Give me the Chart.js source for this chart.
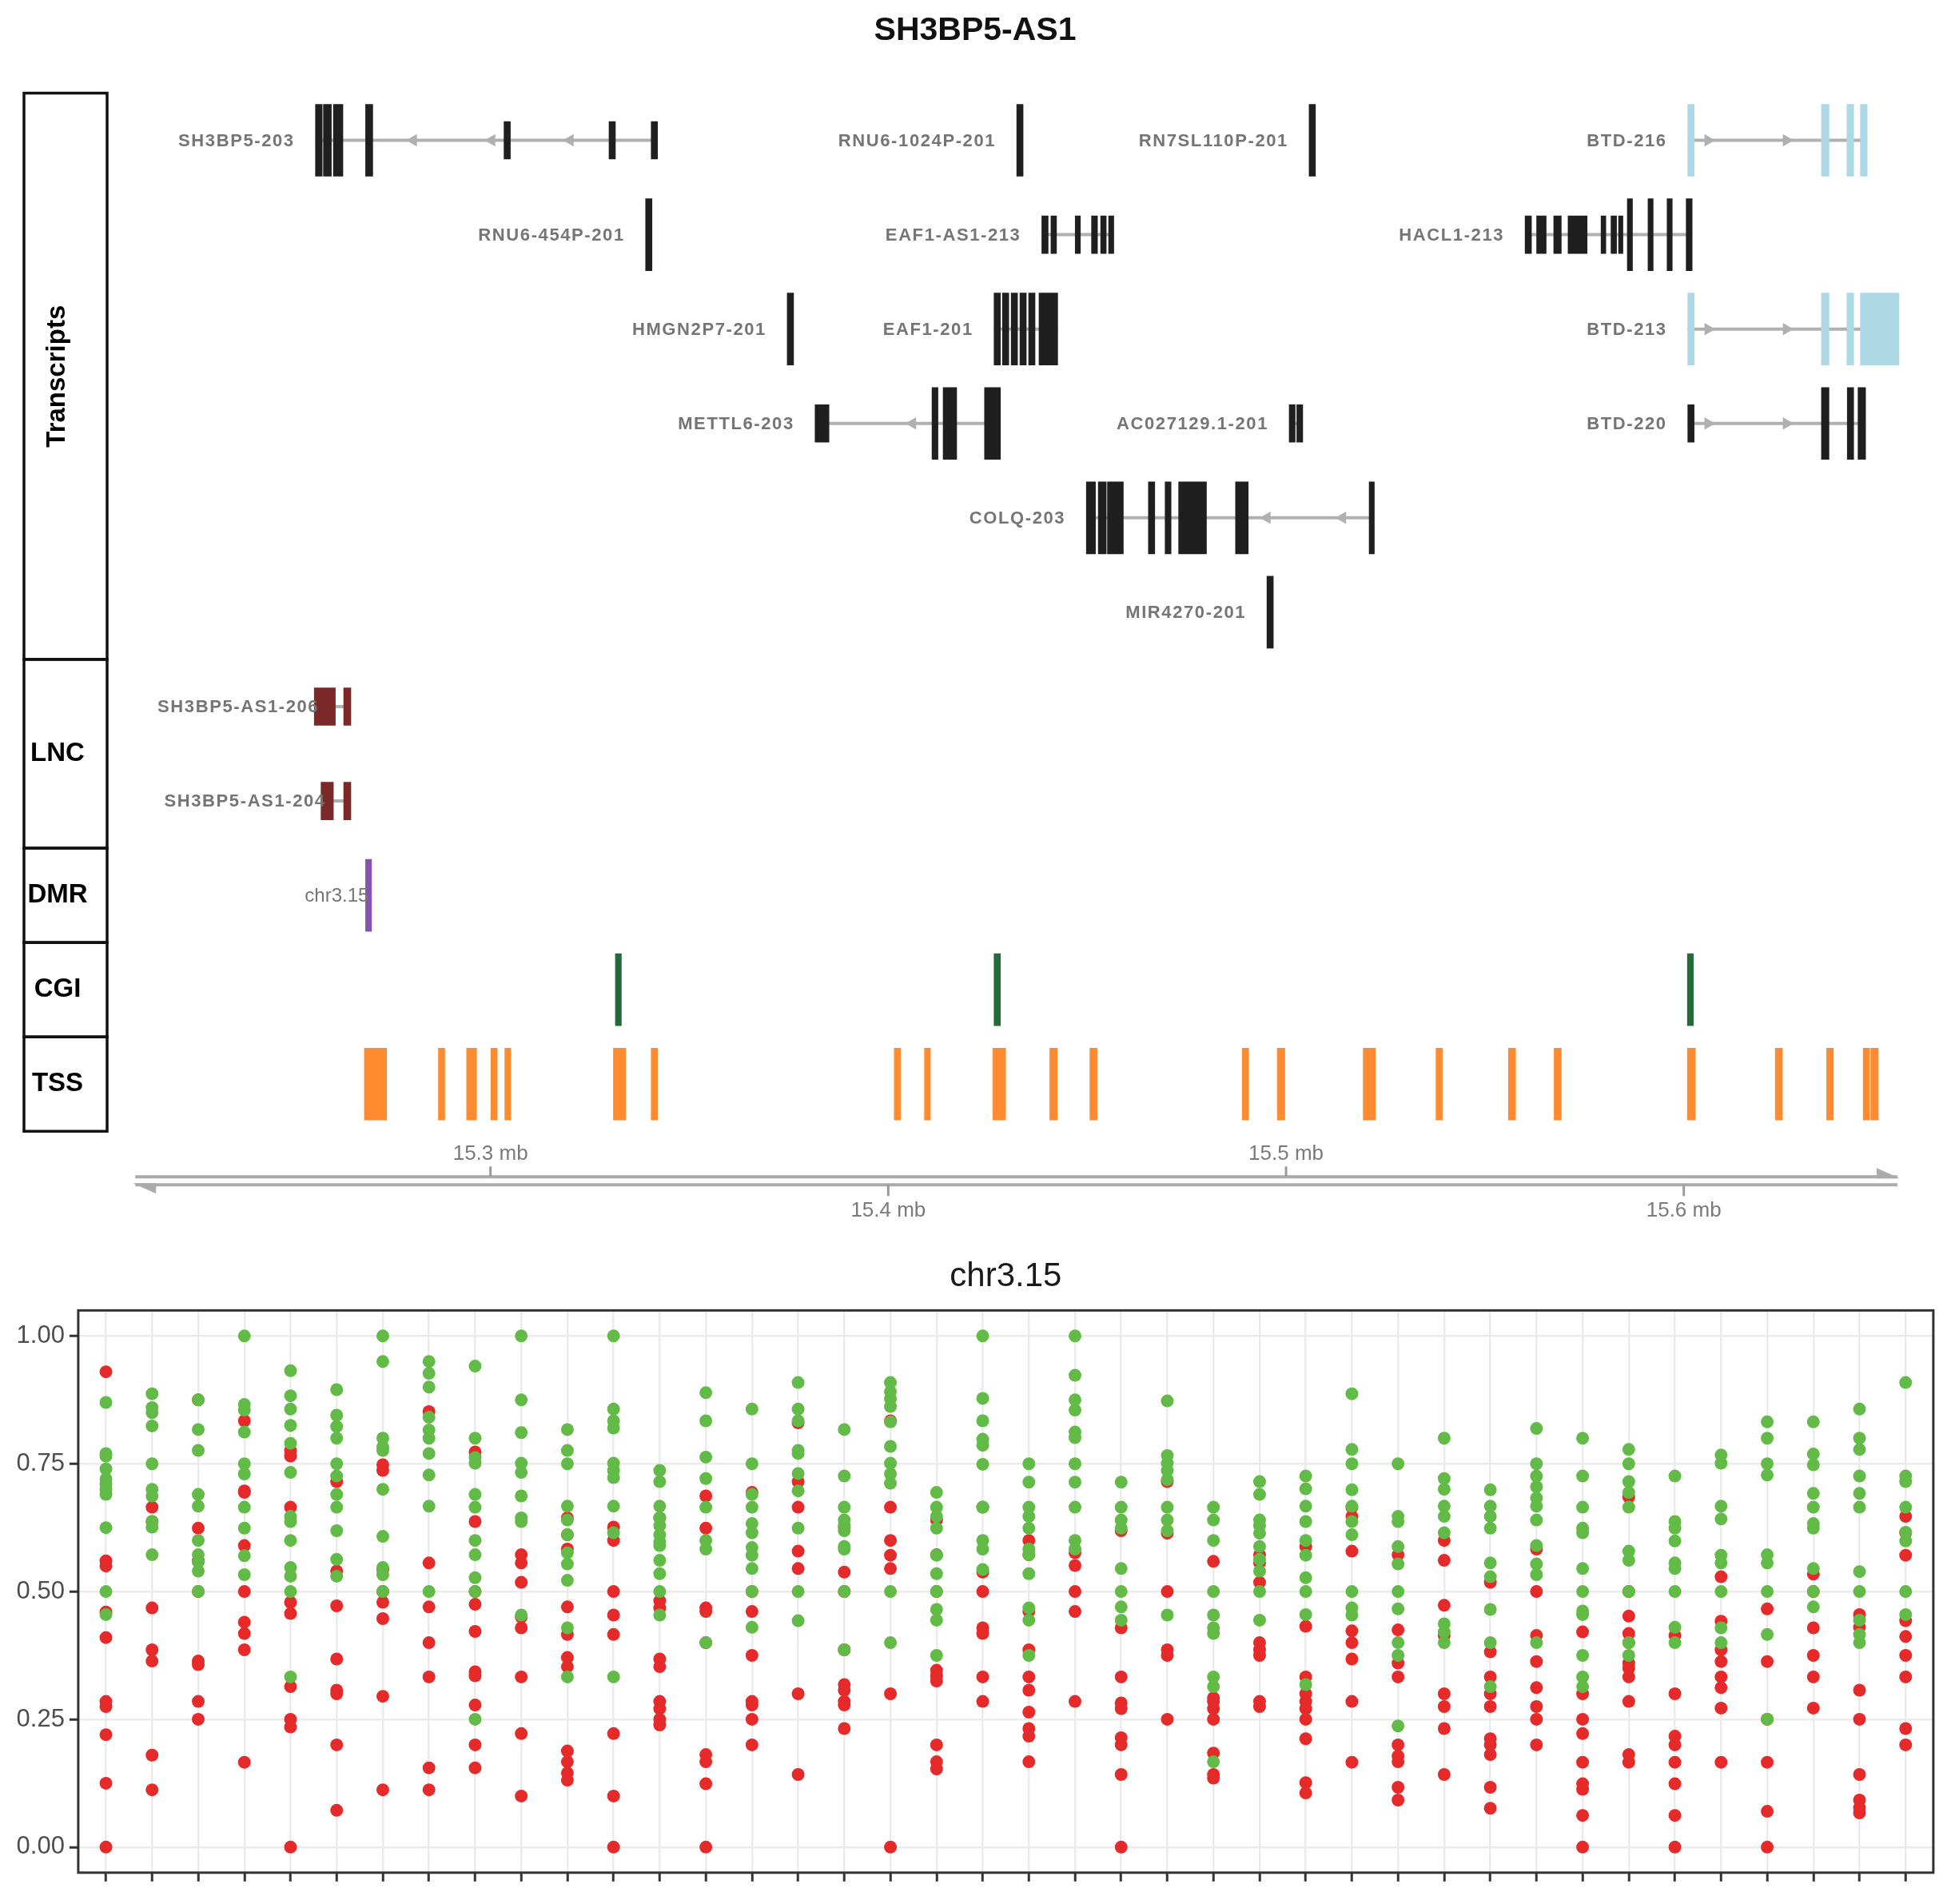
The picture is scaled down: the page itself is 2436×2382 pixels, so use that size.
<!DOCTYPE html>
<html>
<head>
<meta charset="utf-8">
<script src="https://cdn.jsdelivr.net/npm/chart.js@4.4.1/dist/chart.umd.min.js"></script>
<style>
  html, body { margin: 0; padding: 0; background: #fff; }
  #wrap { position: relative; width: 2436px; height: 2382px; }
  #trackChart { position: absolute; left: 0; top: 0; width: 2436px; height: 1560px; }
  #methChart { position: absolute; left: 0; top: 1560px; width: 2436px; height: 822px; }
</style>
</head>
<body>
<div id="wrap">
  <canvas id="trackChart" width="2436" height="1560"></canvas>
  <canvas id="methChart" width="2436" height="822"></canvas>
</div>
<script>
// ---- genome track (positions in mb) ----
const plotTitle = 'SH3BP5-AS1';
const geneNames = ['SH3BP5-203', 'RNU6-1024P-201', 'RN7SL110P-201', 'BTD-216',
  'RNU6-454P-201', 'EAF1-AS1-213', 'HACL1-213',
  'HMGN2P7-201', 'EAF1-201', 'BTD-213',
  'METTL6-203', 'AC027129.1-201', 'BTD-220',
  'COLQ-203', 'MIR4270-201',
  'SH3BP5-AS1-206', 'SH3BP5-AS1-204', 'chr3.15'];
const geneRow = [0, 0, 0, 0, 1, 1, 1, 2, 2, 2, 3, 3, 3, 4, 5, 6, 7, 8];
const geneKind = ['tx', 'tx', 'tx', 'btd', 'tx', 'tx', 'tx', 'tx', 'tx', 'btd',
  'tx', 'tx', 'tx', 'tx', 'tx', 'lnc', 'lnc', 'dmr'];

const tallExons = [
  [[15.2560, 15.2577], [15.2580, 15.2600], [15.2605, 15.2629], [15.2686, 15.2704]],
  [[15.4323, 15.4339]],
  [[15.5058, 15.5074]],
  [[15.6010, 15.6026], [15.6346, 15.6365], [15.6410, 15.6427], [15.6444, 15.6461]],
  [[15.3390, 15.3406]],
  [],
  [[15.5858, 15.5871], [15.5910, 15.5923], [15.5958, 15.5971], [15.6006, 15.6021]],
  [[15.3746, 15.3762]],
  [[15.4266, 15.4282], [15.4287, 15.4303], [15.4309, 15.4325], [15.4331, 15.4347], [15.4353, 15.4369], [15.4379, 15.4426]],
  [[15.6010, 15.6026], [15.6346, 15.6365], [15.6410, 15.6427], [15.6444, 15.6541]],
  [[15.4110, 15.4125], [15.4138, 15.4172], [15.4242, 15.4282]],
  [],
  [[15.6346, 15.6365], [15.6411, 15.6427], [15.6438, 15.6457]],
  [[15.4498, 15.4521], [15.4528, 15.4548], [15.4551, 15.4591], [15.4654, 15.4670], [15.4696, 15.4711], [15.4730, 15.4800], [15.4873, 15.4905], [15.5209, 15.5222]],
  [[15.4952, 15.4968]],
  [],
  [],
  [[15.2686, 15.2701]]
];
const shortExons = [
  [[15.3034, 15.3050], [15.3298, 15.3314], [15.3404, 15.3420]],
  [], [], [], [],
  [[15.4386, 15.4402], [15.4409, 15.4423], [15.4470, 15.4483], [15.4511, 15.4526], [15.4534, 15.4548], [15.4554, 15.4567]],
  [[15.5601, 15.5617], [15.5630, 15.5654], [15.5673, 15.5692], [15.5709, 15.5757], [15.5792, 15.5804], [15.5817, 15.5831], [15.5836, 15.5847]],
  [], [], [],
  [[15.3816, 15.3851]],
  [[15.5008, 15.5023], [15.5027, 15.5042]],
  [[15.6010, 15.6026]],
  [], [],
  [[15.2557, 15.2610], [15.2631, 15.2649]],
  [[15.2574, 15.2605], [15.2631, 15.2649]],
  []
];
const arrowsLeft = [15.2806, 15.3003, 15.3200, 15.4061, 15.4952, 15.5142];
const arrowsLeftRow = [0, 0, 0, 3, 4, 4];
const arrowsRight = [15.6061, 15.6258, 15.6061, 15.6258, 15.6061, 15.6258];
const arrowsRightRow = [0, 0, 2, 2, 3, 3];

const cgiRegions = [[15.3314, 15.3329], [15.4266, 15.4282], [15.6009, 15.6024]];
const tssRegions = [[15.2683, 15.2739], [15.2869, 15.2885], [15.2940, 15.2965], [15.3001, 15.3017],
  [15.3036, 15.3051], [15.3309, 15.3340], [15.3404, 15.3420], [15.4015, 15.4031], [15.4091, 15.4106],
  [15.4263, 15.4295], [15.4406, 15.4425], [15.4507, 15.4525], [15.4890, 15.4906], [15.4978, 15.4997],
  [15.5194, 15.5225], [15.5377, 15.5393], [15.5559, 15.5577], [15.5674, 15.5692], [15.6009, 15.6029],
  [15.6230, 15.6248], [15.6359, 15.6376], [15.6451, 15.6467], [15.6470, 15.6489]];

const trackNames = ['Transcripts', 'LNC', 'DMR', 'CGI', 'TSS'];
const trackRows = [[0, 5], [6, 7], [8, 8], [9, 9], [10, 10]];
const axisTicks = [15.3, 15.4, 15.5, 15.6];
const axisSpan = [15.2107, 15.6537];

// ---- methylation of the DMR (one column per CpG) ----
const methTitle = 'chr3.15';
const greenVals = [
  [0.87, 0.77, 0.765, 0.74, 0.72, 0.71, 0.70, 0.69, 0.625, 0.50, 0.455],
  [0.887, 0.86, 0.85, 0.824, 0.75, 0.70, 0.687, 0.637, 0.626, 0.572],
  [0.875, 0.817, 0.776, 0.69, 0.667, 0.60, 0.572, 0.558, 0.54, 0.50],
  [1.0, 0.866, 0.855, 0.812, 0.75, 0.73, 0.665, 0.624, 0.57, 0.533],
  [0.932, 0.883, 0.857, 0.825, 0.79, 0.733, 0.647, 0.637, 0.60, 0.547, 0.53, 0.50, 0.333],
  [0.895, 0.845, 0.823, 0.80, 0.75, 0.726, 0.69, 0.665, 0.619, 0.563, 0.53],
  [1.0, 0.95, 0.80, 0.783, 0.776, 0.70, 0.608, 0.547, 0.533, 0.50],
  [0.95, 0.927, 0.90, 0.841, 0.816, 0.80, 0.77, 0.728, 0.667, 0.50],
  [0.941, 0.80, 0.762, 0.751, 0.69, 0.665, 0.60, 0.572, 0.527, 0.50, 0.25],
  [1.0, 0.875, 0.811, 0.751, 0.733, 0.687, 0.644, 0.637, 0.454],
  [0.817, 0.776, 0.75, 0.667, 0.64, 0.611, 0.576, 0.554, 0.522, 0.429, 0.333],
  [1.0, 0.857, 0.834, 0.82, 0.751, 0.737, 0.723, 0.667, 0.615, 0.333],
  [0.737, 0.715, 0.667, 0.644, 0.629, 0.611, 0.597, 0.59, 0.561, 0.535, 0.50, 0.454],
  [0.889, 0.834, 0.763, 0.721, 0.665, 0.60, 0.583, 0.40],
  [0.857, 0.75, 0.69, 0.665, 0.633, 0.615, 0.586, 0.571, 0.545, 0.50, 0.43],
  [0.909, 0.857, 0.834, 0.776, 0.77, 0.731, 0.697, 0.624, 0.50, 0.443],
  [0.817, 0.726, 0.665, 0.64, 0.629, 0.619, 0.588, 0.583, 0.50, 0.386],
  [0.909, 0.891, 0.877, 0.862, 0.832, 0.784, 0.751, 0.73, 0.712, 0.50, 0.40],
  [0.694, 0.665, 0.647, 0.624, 0.571, 0.535, 0.50, 0.465, 0.444, 0.375],
  [1.0, 0.878, 0.834, 0.798, 0.786, 0.749, 0.665, 0.60, 0.583, 0.543],
  [0.75, 0.714, 0.665, 0.647, 0.624, 0.583, 0.572, 0.535, 0.468, 0.444, 0.375],
  [1.0, 0.923, 0.875, 0.855, 0.812, 0.801, 0.75, 0.714, 0.665, 0.60, 0.583],
  [0.714, 0.665, 0.64, 0.624, 0.545, 0.50, 0.47, 0.444],
  [0.873, 0.766, 0.751, 0.737, 0.719, 0.665, 0.64, 0.619, 0.454],
  [0.665, 0.64, 0.60, 0.50, 0.454, 0.429, 0.418, 0.333, 0.314, 0.167],
  [0.715, 0.69, 0.64, 0.629, 0.614, 0.588, 0.563, 0.54, 0.50, 0.444],
  [0.726, 0.701, 0.667, 0.637, 0.60, 0.571, 0.527, 0.50, 0.455, 0.318],
  [0.887, 0.778, 0.75, 0.699, 0.667, 0.637, 0.611, 0.50, 0.468, 0.454],
  [0.75, 0.647, 0.637, 0.588, 0.554, 0.50, 0.466, 0.40, 0.375, 0.237],
  [0.80, 0.721, 0.70, 0.667, 0.647, 0.615, 0.437, 0.421, 0.40],
  [0.699, 0.667, 0.647, 0.624, 0.556, 0.529, 0.465, 0.40, 0.314],
  [0.819, 0.75, 0.726, 0.705, 0.683, 0.667, 0.64, 0.59, 0.554, 0.533, 0.40],
  [0.80, 0.726, 0.665, 0.624, 0.615, 0.545, 0.50, 0.462, 0.455, 0.375, 0.333, 0.314],
  [0.778, 0.75, 0.715, 0.694, 0.665, 0.579, 0.561, 0.50, 0.40, 0.375],
  [0.726, 0.637, 0.624, 0.599, 0.556, 0.545, 0.50, 0.43, 0.40],
  [0.767, 0.751, 0.667, 0.642, 0.571, 0.556, 0.50, 0.429, 0.40],
  [0.832, 0.80, 0.75, 0.728, 0.572, 0.556, 0.50, 0.416, 0.25],
  [0.832, 0.769, 0.748, 0.692, 0.665, 0.633, 0.624, 0.545, 0.50, 0.47],
  [0.857, 0.80, 0.778, 0.726, 0.692, 0.665, 0.539, 0.50, 0.444, 0.416, 0.40],
  [0.909, 0.726, 0.715, 0.665, 0.616, 0.599, 0.50, 0.455]
];
const redVals = [
  [0.93, 0.56, 0.55, 0.46, 0.41, 0.285, 0.275, 0.22, 0.125, 0.0],
  [0.665, 0.637, 0.468, 0.386, 0.364, 0.18, 0.112],
  [0.875, 0.624, 0.56, 0.50, 0.364, 0.357, 0.285, 0.25],
  [0.834, 0.697, 0.694, 0.59, 0.50, 0.44, 0.418, 0.386, 0.166],
  [0.776, 0.765, 0.665, 0.479, 0.457, 0.314, 0.25, 0.235, 0.0],
  [0.715, 0.54, 0.472, 0.368, 0.307, 0.30, 0.20, 0.072],
  [0.748, 0.737, 0.543, 0.50, 0.479, 0.447, 0.295, 0.112],
  [0.852, 0.556, 0.47, 0.40, 0.333, 0.155, 0.112],
  [0.773, 0.637, 0.50, 0.475, 0.422, 0.343, 0.335, 0.278, 0.20, 0.155],
  [0.572, 0.556, 0.518, 0.45, 0.429, 0.333, 0.222, 0.10],
  [0.644, 0.611, 0.583, 0.47, 0.416, 0.371, 0.353, 0.188, 0.167, 0.145, 0.131],
  [0.626, 0.60, 0.50, 0.454, 0.416, 0.222, 0.10, 0.0],
  [0.644, 0.482, 0.468, 0.368, 0.353, 0.285, 0.271, 0.25, 0.239],
  [0.687, 0.624, 0.468, 0.461, 0.40, 0.181, 0.167, 0.124, 0.0],
  [0.694, 0.50, 0.461, 0.375, 0.285, 0.278, 0.25, 0.20],
  [0.83, 0.715, 0.665, 0.579, 0.545, 0.30, 0.142],
  [0.626, 0.538, 0.50, 0.386, 0.318, 0.307, 0.285, 0.278, 0.232],
  [0.834, 0.665, 0.60, 0.571, 0.545, 0.30, 0.0],
  [0.64, 0.572, 0.50, 0.346, 0.335, 0.325, 0.20, 0.167, 0.153],
  [0.665, 0.538, 0.50, 0.429, 0.418, 0.333, 0.285],
  [0.60, 0.572, 0.461, 0.386, 0.333, 0.307, 0.264, 0.232, 0.217, 0.167],
  [0.576, 0.551, 0.50, 0.461, 0.285],
  [0.619, 0.429, 0.333, 0.282, 0.271, 0.214, 0.20, 0.142, 0.0],
  [0.715, 0.614, 0.50, 0.386, 0.375, 0.25],
  [0.559, 0.292, 0.285, 0.271, 0.25, 0.184, 0.142, 0.135],
  [0.572, 0.556, 0.518, 0.40, 0.386, 0.375, 0.285, 0.275],
  [0.588, 0.432, 0.333, 0.30, 0.285, 0.271, 0.25, 0.212, 0.126, 0.106],
  [0.665, 0.647, 0.579, 0.423, 0.40, 0.368, 0.285, 0.166],
  [0.572, 0.425, 0.36, 0.333, 0.20, 0.178, 0.167, 0.117, 0.092],
  [0.60, 0.561, 0.473, 0.414, 0.30, 0.275, 0.232, 0.142],
  [0.518, 0.382, 0.333, 0.30, 0.275, 0.212, 0.20, 0.181, 0.117, 0.076],
  [0.583, 0.50, 0.414, 0.363, 0.312, 0.275, 0.25, 0.20],
  [0.421, 0.30, 0.25, 0.222, 0.166, 0.124, 0.113, 0.062, 0.0],
  [0.685, 0.50, 0.452, 0.418, 0.40, 0.36, 0.35, 0.333, 0.285, 0.181, 0.166],
  [0.414, 0.30, 0.217, 0.20, 0.166, 0.124, 0.062, 0.0],
  [0.529, 0.442, 0.386, 0.363, 0.333, 0.312, 0.272, 0.166],
  [0.466, 0.363, 0.25, 0.166, 0.07, 0.0],
  [0.534, 0.50, 0.429, 0.375, 0.333, 0.272],
  [0.455, 0.43, 0.307, 0.25, 0.142, 0.092, 0.077, 0.067],
  [0.647, 0.615, 0.571, 0.443, 0.412, 0.375, 0.333, 0.232, 0.20]
];
const yTicks = [0, 0.25, 0.5, 0.75, 1];

const kindColor = { tx: '#1f1f1f', btd: '#add8e6', lnc: '#7b2828', dmr: '#8753b0', cgi: '#236b39', tss: '#ff8b30' };

// build bar data for exons/regions
const tallData = [], tallColors = [], shortData = [], shortColors = [];
geneNames.forEach((g, i) => {
  tallExons[i].forEach(e => { tallData.push({ x: e.slice(), y: geneRow[i] }); tallColors.push(kindColor[geneKind[i]]); });
  shortExons[i].forEach(e => { shortData.push({ x: e.slice(), y: geneRow[i] }); shortColors.push(kindColor[geneKind[i]]); });
});
cgiRegions.forEach(e => { tallData.push({ x: e.slice(), y: 9 }); tallColors.push(kindColor.cgi); });
tssRegions.forEach(e => { tallData.push({ x: e.slice(), y: 10 }); tallColors.push(kindColor.tss); });

function geneSpan(i) {
  const all = tallExons[i].concat(shortExons[i]);
  return [Math.min(...all.map(e => e[0])), Math.max(...all.map(e => e[1]))];
}

const intronSets = [];
geneNames.forEach((g, i) => {
  if (tallExons[i].length + shortExons[i].length < 2) return;
  const sp = geneSpan(i);
  intronSets.push({
    type: 'line',
    data: [{ x: sp[0], y: geneRow[i] }, { x: sp[1], y: geneRow[i] }],
    borderColor: '#b0b0b0', borderWidth: 4, pointRadius: 0, order: 3
  });
});

const trackDecor = {
  id: 'trackDecor',
  afterDatasetsDraw(chart) {
    const { ctx, chartArea: ca, scales: { x, y } } = chart;
    ctx.save();
    ctx.fillStyle = '#111';
    ctx.font = 'bold 41px "Liberation Sans"';
    ctx.textAlign = 'center';
    ctx.textBaseline = 'middle';
    ctx.fillText(plotTitle, 1220, 39);

    // track boxes on the left
    ctx.lineWidth = 3.5;
    ctx.strokeStyle = '#111';
    trackNames.forEach((name, i) => {
      const top = y.getPixelForValue(trackRows[i][0] - 0.5);
      const bot = y.getPixelForValue(trackRows[i][1] + 0.5);
      ctx.strokeRect(30, top, 104, bot - top);
      ctx.save();
      ctx.font = 'bold 33px "Liberation Sans"';
      ctx.fillStyle = '#000';
      ctx.translate(72, (top + bot) / 2);
      if (name === 'Transcripts') ctx.rotate(-Math.PI / 2);
      ctx.fillText(name, 0, 0);
      ctx.restore();
    });

    // gene labels
    ctx.textAlign = 'right';
    ctx.fillStyle = '#757575';
    geneNames.forEach((g, i) => {
      const px = x.getPixelForValue(geneSpan(i)[0]);
      const py = y.getPixelForValue(geneRow[i]);
      let off = -26;
      ctx.font = 'bold 22px "Liberation Sans"';
      ctx.letterSpacing = '1.6px';
      if (geneKind[i] === 'lnc') off = 6;
      if (geneKind[i] === 'dmr') { off = 4; ctx.font = '24px "Liberation Sans"'; ctx.letterSpacing = '0px'; }
      ctx.fillText(g, px + off, py + 1);
    });
    ctx.letterSpacing = '0px';

    // genomic axis
    const yTop = ca.bottom + 57, yBot = ca.bottom + 67;
    const xL = x.getPixelForValue(axisSpan[0]), xR = x.getPixelForValue(axisSpan[1]);
    ctx.strokeStyle = '#ababab';
    ctx.fillStyle = '#ababab';
    ctx.lineWidth = 4;
    ctx.beginPath();
    ctx.moveTo(xL, yTop); ctx.lineTo(xR, yTop);
    ctx.moveTo(xL, yBot); ctx.lineTo(xR, yBot);
    ctx.stroke();
    ctx.beginPath();
    ctx.moveTo(xR + 3, yTop + 2); ctx.lineTo(xR - 26, yTop - 11); ctx.lineTo(xR - 26, yTop + 2);
    ctx.closePath(); ctx.fill();
    ctx.beginPath();
    ctx.moveTo(xL - 3, yBot - 2); ctx.lineTo(xL + 26, yBot + 11); ctx.lineTo(xL + 26, yBot - 2);
    ctx.closePath(); ctx.fill();

    ctx.font = '26px "Liberation Sans"';
    ctx.textAlign = 'center';
    axisTicks.forEach((t, i) => {
      const px = x.getPixelForValue(t);
      const up = i % 2 === 0;
      ctx.strokeStyle = '#9a9a9a';
      ctx.lineWidth = 3;
      ctx.beginPath();
      if (up) { ctx.moveTo(px, yTop); ctx.lineTo(px, yTop - 13); }
      else { ctx.moveTo(px, yBot); ctx.lineTo(px, yBot + 14); }
      ctx.stroke();
      ctx.fillStyle = '#7a7a7a';
      ctx.fillText(t.toFixed(1) + ' mb', px, up ? yTop - 28 : yBot + 33);
    });
    ctx.restore();
  }
};

new Chart(document.getElementById('trackChart'), {
  type: 'bar',
  data: {
    datasets: [
      { type: 'bar', indexAxis: 'y', data: tallData, backgroundColor: tallColors, barThickness: 90, grouped: false, borderWidth: 0, order: 0 },
      { type: 'bar', indexAxis: 'y', data: shortData, backgroundColor: shortColors, barThickness: 47, grouped: false, borderWidth: 0, order: 1 },
      { type: 'scatter', data: arrowsLeft.map((v, i) => ({ x: v, y: arrowsLeftRow[i] })), pointStyle: 'triangle', rotation: 270, pointRadius: 9, backgroundColor: '#b0b0b0', borderWidth: 0, order: 2 },
      { type: 'scatter', data: arrowsRight.map((v, i) => ({ x: v, y: arrowsRightRow[i] })), pointStyle: 'triangle', rotation: 90, pointRadius: 9, backgroundColor: '#b0b0b0', borderWidth: 0, order: 2 },
      ...intronSets
    ]
  },
  options: {
    responsive: false,
    animation: false,
    devicePixelRatio: 1,
    layout: { padding: { left: 116, right: 30.7, top: 116.5, bottom: 144.7 } },
    scales: {
      x: { type: 'linear', min: 15.2, max: 15.66, offset: false, display: false },
      y: { type: 'linear', min: -0.5, max: 10.5, reverse: true, offset: false, display: false }
    },
    plugins: { legend: { display: false }, tooltip: { enabled: false } }
  },
  plugins: [trackDecor]
});

// ---- methylation scatter ----
const siteIdx = greenVals.map((v, i) => i);
const greenPts = [], redPts = [];
greenVals.forEach((col, i) => col.forEach(v => greenPts.push({ x: i, y: v })));
redVals.forEach((col, i) => col.forEach(v => redPts.push({ x: i, y: v })));

const panelBox = {
  id: 'panelBox',
  afterDraw(chart) {
    const { ctx, chartArea: ca } = chart;
    ctx.save();
    ctx.strokeStyle = '#333';
    ctx.lineWidth = 3;
    ctx.strokeRect(ca.left, ca.top, ca.right - ca.left, ca.bottom - ca.top);
    ctx.restore();
  }
};

new Chart(document.getElementById('methChart'), {
  type: 'scatter',
  data: {
    datasets: [
      { label: 'green', data: greenPts, backgroundColor: '#63bb47', pointRadius: 8, borderWidth: 0, order: 0 },
      { label: 'red', data: redPts, backgroundColor: '#e62a2a', pointRadius: 8, borderWidth: 0, order: 1 }
    ]
  },
  options: {
    responsive: false,
    animation: false,
    devicePixelRatio: 1,
    layout: { padding: { left: 0, right: 17.1, top: 0, bottom: 0 } },
    scales: {
      x: {
        type: 'linear', min: -0.6, max: 39.6,
        afterBuildTicks: s => { s.ticks = siteIdx.map(v => ({ value: v })); },
        afterFit: s => { s.height = 39.2; },
        ticks: { display: false },
        grid: { color: '#ebebeb', lineWidth: 2.5, tickColor: '#333', tickWidth: 3, tickLength: 11 },
        border: { display: false }
      },
      y: {
        type: 'linear', min: -0.05, max: 1.05,
        afterBuildTicks: s => { s.ticks = yTicks.map(v => ({ value: v })); },
        afterFit: s => { s.width = 97.9; },
        ticks: { callback: v => Number(v).toFixed(2), font: { family: 'Liberation Sans', size: 31 }, color: '#4d4d4d', padding: 6 },
        grid: { color: '#ebebeb', lineWidth: 2.5, tickColor: '#333', tickWidth: 3, tickLength: 11 },
        border: { display: false }
      }
    },
    plugins: {
      legend: { display: false },
      tooltip: { enabled: false },
      title: {
        display: true, text: methTitle, fullSize: false,
        font: { family: 'Liberation Sans', size: 42, weight: 'normal' },
        color: '#1a1a1a', padding: { top: 12, bottom: 17 }
      }
    }
  },
  plugins: [panelBox]
});
</script>
</body>
</html>
